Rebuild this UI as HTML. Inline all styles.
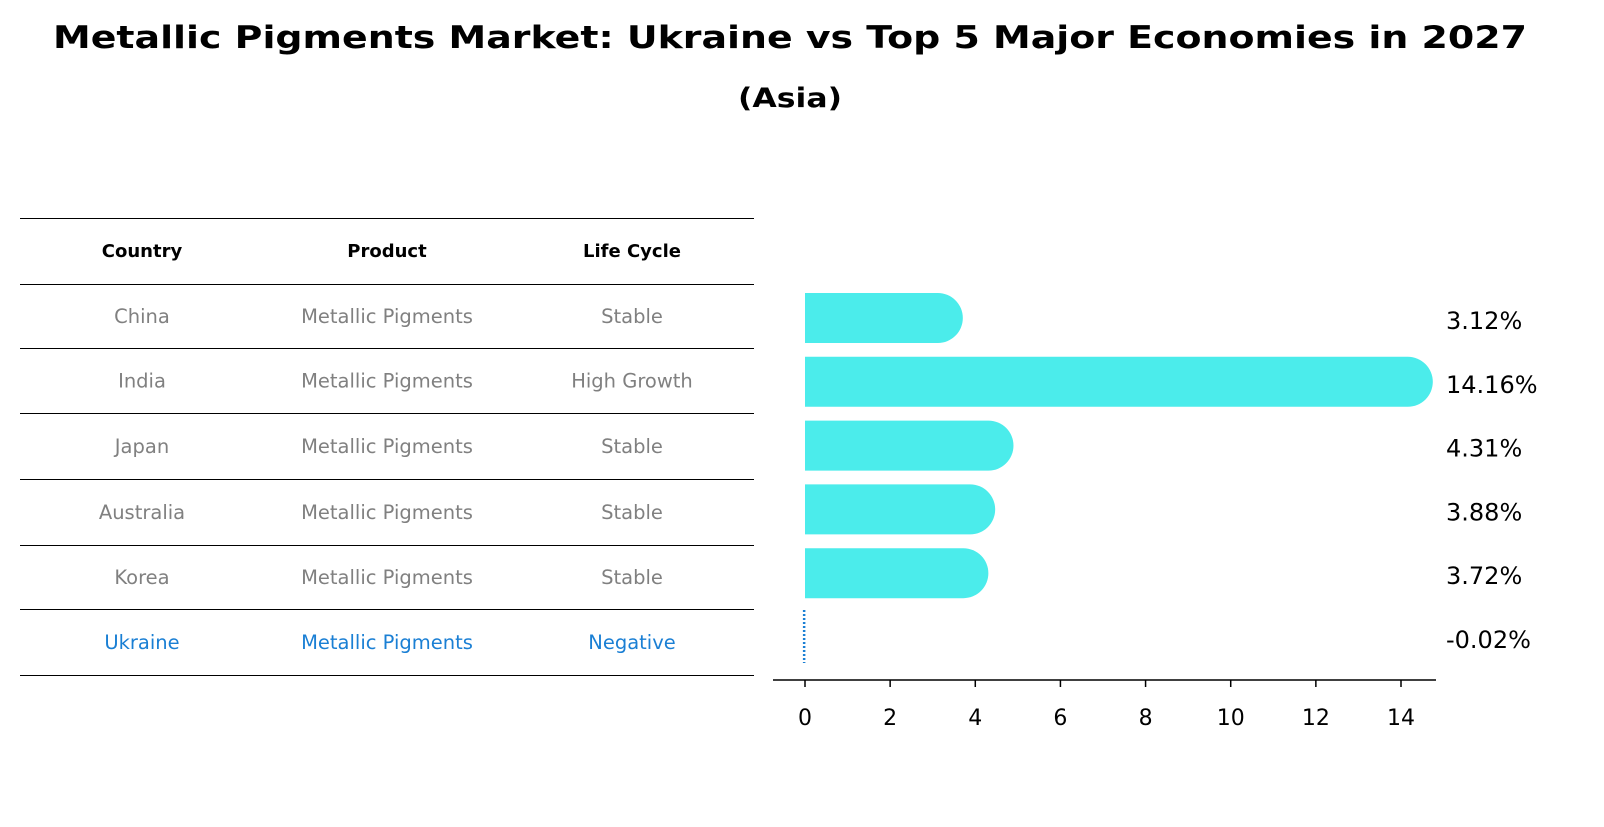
<!DOCTYPE html>
<html><head><meta charset="utf-8"><style>
body{margin:0;background:#fff;font-family:"DejaVu Sans","Liberation Sans",sans-serif;}
</style></head><body>
<svg width="1604" height="823" xmlns="http://www.w3.org/2000/svg" font-family="DejaVu Sans, Liberation Sans, sans-serif">
<text x="790" y="48" text-anchor="middle" font-size="31" font-weight="bold" textLength="1474" lengthAdjust="spacingAndGlyphs">Metallic Pigments Market: Ukraine vs Top 5 Major Economies in 2027</text>
<text x="790" y="107" text-anchor="middle" font-size="27" font-weight="bold" textLength="104" lengthAdjust="spacingAndGlyphs">(Asia)</text>
<g id="table"></g>
<g id="bars"></g>
</svg>
<script>
const countries=["China","India","Japan","Australia","Korea","Ukraine"];
const products=["Metallic Pigments","Metallic Pigments","Metallic Pigments","Metallic Pigments","Metallic Pigments","Metallic Pigments"];
const lifeCycles=["Stable","High Growth","Stable","Stable","Stable","Negative"];
const growth=[3.12,14.16,4.31,3.88,3.72,-0.02];
const xTicks=[0,2,4,6,8,10,12,14];
const NS="http://www.w3.org/2000/svg";
function mk(t,a,p){const e=document.createElementNS(NS,t);for(const k in a)e.setAttribute(k,a[k]);p.appendChild(e);return e;}
const tb=document.getElementById('table');
const lines=[218,284,348,413,479,545,609,675];
lines.forEach(y=>{const l=mk('line',{x1:20,x2:754,y1:y+0.5,y2:y+0.5,stroke:'#000','stroke-width':1},tb);

});
const cx=[142,387,632];
["Country","Product","Life Cycle"].forEach((h,i)=>{const t=mk('text',{x:cx[i],y:257,'text-anchor':'middle','font-size':18,'font-weight':'bold'},tb);t.textContent=h;

});
countries.forEach((c,r)=>{const y=(lines[r+1]+lines[r+2])/2+7;const col=c==="Ukraine"?"#1a7fd4":"#808080";
[c,products[r],lifeCycles[r]].forEach((v,i)=>{const t=mk('text',{x:cx[i],y:y,'text-anchor':'middle','font-size':19.5,fill:col},tb);t.textContent=v;

});});
const bg=document.getElementById('bars');
const x0=805,sc=(1401-805)/14;
const X=v=>x0+v*sc;
const Y=i=>318+i*63.8;
const h=50,r=25;
growth.forEach((v,i)=>{
 const yc=Y(i);
 if(v>0){
  const xe=X(v);
  const p=mk('path',{d:`M${x0} ${yc-h/2} L${xe} ${yc-h/2} A${r} ${r} 0 0 1 ${xe} ${yc+h/2} L${x0} ${yc+h/2} Z`,fill:'#4beceb'},bg);
  
  
 } else {
  const l=mk('line',{x1:X(v),x2:X(v),y1:yc-27,y2:yc+26,stroke:'#1a7fd4','stroke-width':2.5,'stroke-dasharray':'2 2'},bg);
  
  
 }
 const t=mk('text',{x:1446,y:yc+11,'font-size':24},bg);t.textContent=v.toFixed(2)+'%';
 
 
});
const ax=mk('line',{x1:773,x2:1436,y1:680,y2:680,stroke:'#000','stroke-width':1.5},bg);


xTicks.forEach(v=>{const tk=mk('line',{x1:X(v),x2:X(v),y1:680,y2:687,stroke:'#000','stroke-width':1.5},bg);


const t=mk('text',{x:X(v),y:725,'text-anchor':'middle','font-size':22},bg);t.textContent=v;

});
</script>
</body></html>
